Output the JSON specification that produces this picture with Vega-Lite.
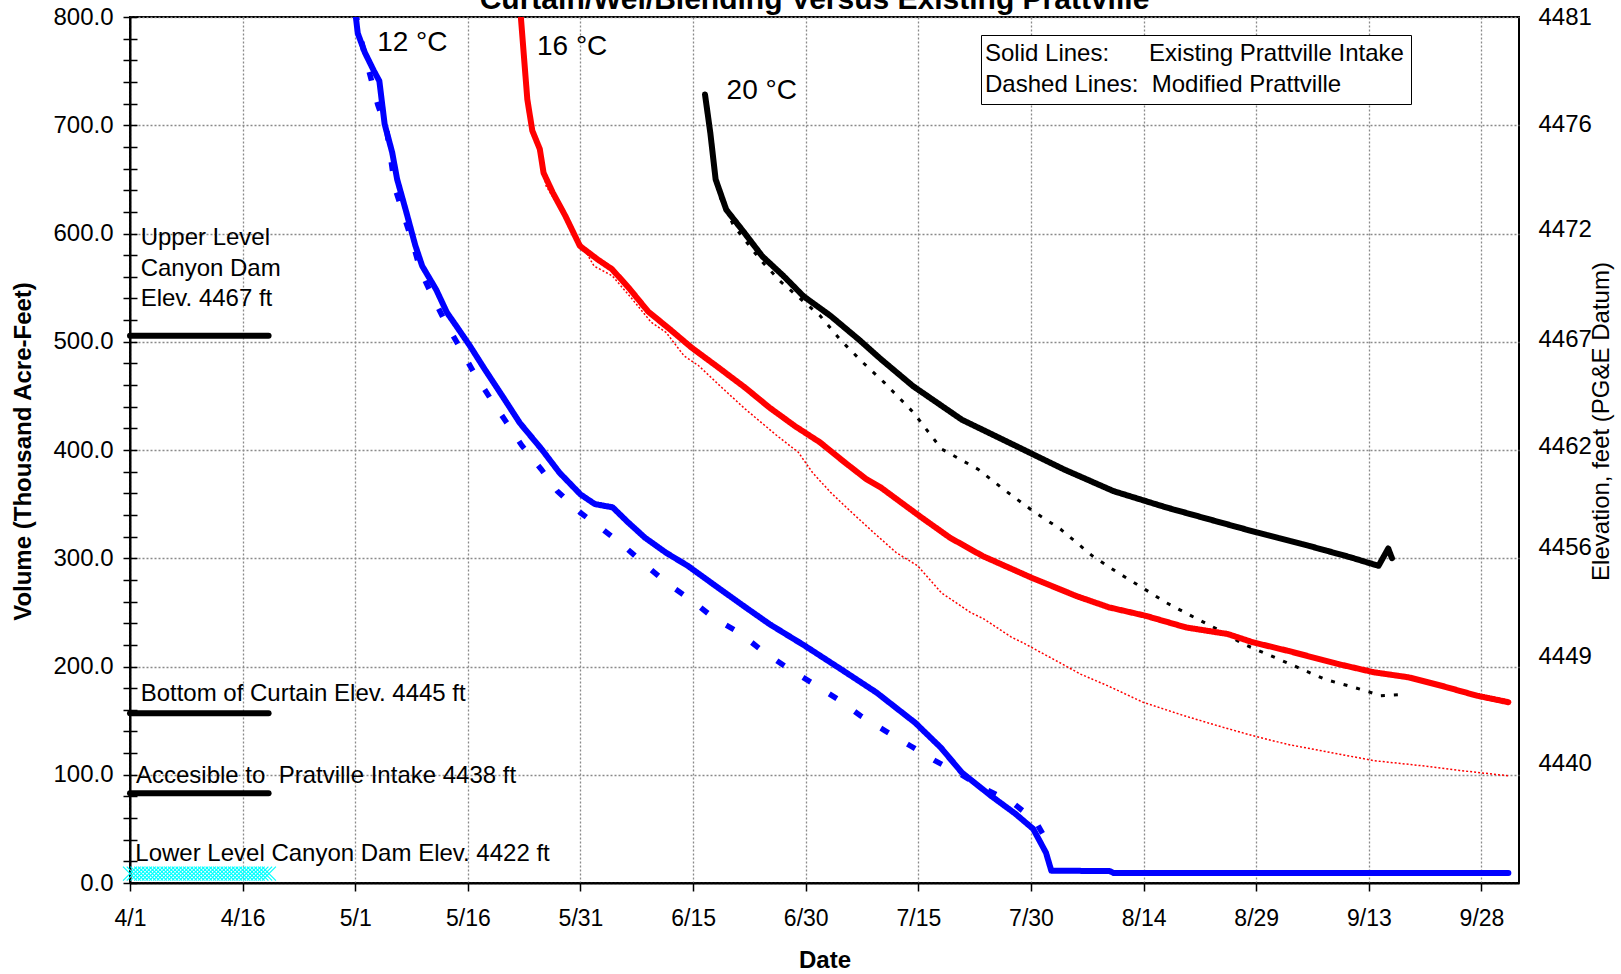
{
  "$schema": "https://vega.github.io/schema/vega-lite/v6.json",
  "width": 1389,
  "height": 866,
  "autosize": {"type": "none"},
  "padding": {"left": 130, "top": 17, "right": 102, "bottom": 91},
  "background": "white",
  "config": {
    "font": "Liberation Sans",
    "view": {"stroke": "black", "strokeWidth": 2},
    "axis": {"labelColor": "black", "titleColor": "black", "labelFont": "Liberation Sans", "titleFont": "Liberation Sans"}
  },
  "title": {
    "text": "Curtain/Wel/Blending Versus Existing Prattville",
    "fontSize": 30,
    "fontWeight": "bold",
    "color": "black",
    "font": "Liberation Sans",
    "offset": 0,
    "dx": -10,
    "dy": 10
  },
  "datasets": {
    "curves": [
      {"temp": "12 °C", "intake": "Existing Prattville Intake", "date": "2007-05-01T00:00Z", "v": 805},
      {"temp": "12 °C", "intake": "Existing Prattville Intake", "date": "2007-05-01T08:00Z", "v": 785},
      {"temp": "12 °C", "intake": "Existing Prattville Intake", "date": "2007-05-02T07:00Z", "v": 767},
      {"temp": "12 °C", "intake": "Existing Prattville Intake", "date": "2007-05-03T12:00Z", "v": 750},
      {"temp": "12 °C", "intake": "Existing Prattville Intake", "date": "2007-05-04T05:00Z", "v": 741},
      {"temp": "12 °C", "intake": "Existing Prattville Intake", "date": "2007-05-04T22:00Z", "v": 701},
      {"temp": "12 °C", "intake": "Existing Prattville Intake", "date": "2007-05-05T22:00Z", "v": 675},
      {"temp": "12 °C", "intake": "Existing Prattville Intake", "date": "2007-05-06T14:00Z", "v": 650},
      {"temp": "12 °C", "intake": "Existing Prattville Intake", "date": "2007-05-07T19:00Z", "v": 620},
      {"temp": "12 °C", "intake": "Existing Prattville Intake", "date": "2007-05-09T00:00Z", "v": 589},
      {"temp": "12 °C", "intake": "Existing Prattville Intake", "date": "2007-05-09T22:00Z", "v": 570},
      {"temp": "12 °C", "intake": "Existing Prattville Intake", "date": "2007-05-11T19:00Z", "v": 548},
      {"temp": "12 °C", "intake": "Existing Prattville Intake", "date": "2007-05-13T05:00Z", "v": 527},
      {"temp": "12 °C", "intake": "Existing Prattville Intake", "date": "2007-05-14T10:00Z", "v": 515},
      {"temp": "12 °C", "intake": "Existing Prattville Intake", "date": "2007-05-16T07:00Z", "v": 496},
      {"temp": "12 °C", "intake": "Existing Prattville Intake", "date": "2007-05-18T05:00Z", "v": 475},
      {"temp": "12 °C", "intake": "Existing Prattville Intake", "date": "2007-05-20T14:00Z", "v": 450},
      {"temp": "12 °C", "intake": "Existing Prattville Intake", "date": "2007-05-22T22:00Z", "v": 425},
      {"temp": "12 °C", "intake": "Existing Prattville Intake", "date": "2007-05-25T19:00Z", "v": 401},
      {"temp": "12 °C", "intake": "Existing Prattville Intake", "date": "2007-05-28T05:00Z", "v": 379},
      {"temp": "12 °C", "intake": "Existing Prattville Intake", "date": "2007-05-31T00:00Z", "v": 359},
      {"temp": "12 °C", "intake": "Existing Prattville Intake", "date": "2007-06-01T22:00Z", "v": 350},
      {"temp": "12 °C", "intake": "Existing Prattville Intake", "date": "2007-06-04T07:00Z", "v": 347},
      {"temp": "12 °C", "intake": "Existing Prattville Intake", "date": "2007-06-06T05:00Z", "v": 334},
      {"temp": "12 °C", "intake": "Existing Prattville Intake", "date": "2007-06-08T14:00Z", "v": 319},
      {"temp": "12 °C", "intake": "Existing Prattville Intake", "date": "2007-06-11T10:00Z", "v": 305},
      {"temp": "12 °C", "intake": "Existing Prattville Intake", "date": "2007-06-14T07:00Z", "v": 293},
      {"temp": "12 °C", "intake": "Existing Prattville Intake", "date": "2007-06-18T02:00Z", "v": 274},
      {"temp": "12 °C", "intake": "Existing Prattville Intake", "date": "2007-06-21T22:00Z", "v": 255},
      {"temp": "12 °C", "intake": "Existing Prattville Intake", "date": "2007-06-25T05:00Z", "v": 239},
      {"temp": "12 °C", "intake": "Existing Prattville Intake", "date": "2007-06-29T22:00Z", "v": 219},
      {"temp": "12 °C", "intake": "Existing Prattville Intake", "date": "2007-07-04T14:00Z", "v": 198},
      {"temp": "12 °C", "intake": "Existing Prattville Intake", "date": "2007-07-09T10:00Z", "v": 176},
      {"temp": "12 °C", "intake": "Existing Prattville Intake", "date": "2007-07-14T14:00Z", "v": 148},
      {"temp": "12 °C", "intake": "Existing Prattville Intake", "date": "2007-07-18T00:00Z", "v": 125},
      {"temp": "12 °C", "intake": "Existing Prattville Intake", "date": "2007-07-20T19:00Z", "v": 102},
      {"temp": "12 °C", "intake": "Existing Prattville Intake", "date": "2007-07-24T14:00Z", "v": 81},
      {"temp": "12 °C", "intake": "Existing Prattville Intake", "date": "2007-07-27T22:00Z", "v": 64},
      {"temp": "12 °C", "intake": "Existing Prattville Intake", "date": "2007-07-30T07:00Z", "v": 50},
      {"temp": "12 °C", "intake": "Existing Prattville Intake", "date": "2007-08-01T00:00Z", "v": 28},
      {"temp": "12 °C", "intake": "Existing Prattville Intake", "date": "2007-08-01T17:00Z", "v": 11.4},
      {"temp": "12 °C", "intake": "Existing Prattville Intake", "date": "2007-08-09T12:00Z", "v": 11},
      {"temp": "12 °C", "intake": "Existing Prattville Intake", "date": "2007-08-10T00:00Z", "v": 9.3},
      {"temp": "12 °C", "intake": "Existing Prattville Intake", "date": "2007-10-01T14:00Z", "v": 9.3},

      {"temp": "12 °C", "intake": "Modified Prattville", "date": "2007-05-01T00:00Z", "v": 805},
      {"temp": "12 °C", "intake": "Modified Prattville", "date": "2007-05-02T02:00Z", "v": 770},
      {"temp": "12 °C", "intake": "Modified Prattville", "date": "2007-05-04T00:00Z", "v": 719},
      {"temp": "12 °C", "intake": "Modified Prattville", "date": "2007-05-05T05:00Z", "v": 695},
      {"temp": "12 °C", "intake": "Modified Prattville", "date": "2007-05-06T07:00Z", "v": 642},
      {"temp": "12 °C", "intake": "Modified Prattville", "date": "2007-05-07T12:00Z", "v": 616},
      {"temp": "12 °C", "intake": "Modified Prattville", "date": "2007-05-08T17:00Z", "v": 590},
      {"temp": "12 °C", "intake": "Modified Prattville", "date": "2007-05-09T17:00Z", "v": 565},
      {"temp": "12 °C", "intake": "Modified Prattville", "date": "2007-05-11T07:00Z", "v": 542},
      {"temp": "12 °C", "intake": "Modified Prattville", "date": "2007-05-13T00:00Z", "v": 518},
      {"temp": "12 °C", "intake": "Modified Prattville", "date": "2007-05-15T02:00Z", "v": 493},
      {"temp": "12 °C", "intake": "Modified Prattville", "date": "2007-05-16T19:00Z", "v": 471.5},
      {"temp": "12 °C", "intake": "Modified Prattville", "date": "2007-05-18T22:00Z", "v": 448.5},
      {"temp": "12 °C", "intake": "Modified Prattville", "date": "2007-05-21T00:00Z", "v": 427},
      {"temp": "12 °C", "intake": "Modified Prattville", "date": "2007-05-23T05:00Z", "v": 404},
      {"temp": "12 °C", "intake": "Modified Prattville", "date": "2007-05-25T19:00Z", "v": 382},
      {"temp": "12 °C", "intake": "Modified Prattville", "date": "2007-05-27T22:00Z", "v": 362},
      {"temp": "12 °C", "intake": "Modified Prattville", "date": "2007-05-31T00:00Z", "v": 342},
      {"temp": "12 °C", "intake": "Modified Prattville", "date": "2007-06-02T22:00Z", "v": 327},
      {"temp": "12 °C", "intake": "Modified Prattville", "date": "2007-06-06T00:00Z", "v": 310},
      {"temp": "12 °C", "intake": "Modified Prattville", "date": "2007-06-08T19:00Z", "v": 293},
      {"temp": "12 °C", "intake": "Modified Prattville", "date": "2007-06-11T17:00Z", "v": 276},
      {"temp": "12 °C", "intake": "Modified Prattville", "date": "2007-06-14T19:00Z", "v": 261},
      {"temp": "12 °C", "intake": "Modified Prattville", "date": "2007-06-17T22:00Z", "v": 244},
      {"temp": "12 °C", "intake": "Modified Prattville", "date": "2007-06-21T05:00Z", "v": 231},
      {"temp": "12 °C", "intake": "Modified Prattville", "date": "2007-06-24T05:00Z", "v": 214.5},
      {"temp": "12 °C", "intake": "Modified Prattville", "date": "2007-06-27T12:00Z", "v": 199},
      {"temp": "12 °C", "intake": "Modified Prattville", "date": "2007-06-30T19:00Z", "v": 185},
      {"temp": "12 °C", "intake": "Modified Prattville", "date": "2007-07-04T05:00Z", "v": 170},
      {"temp": "12 °C", "intake": "Modified Prattville", "date": "2007-07-07T07:00Z", "v": 154.5},
      {"temp": "12 °C", "intake": "Modified Prattville", "date": "2007-07-10T14:00Z", "v": 140.6},
      {"temp": "12 °C", "intake": "Modified Prattville", "date": "2007-07-13T22:00Z", "v": 126.8},
      {"temp": "12 °C", "intake": "Modified Prattville", "date": "2007-07-17T05:00Z", "v": 113},
      {"temp": "12 °C", "intake": "Modified Prattville", "date": "2007-07-20T14:00Z", "v": 100.6},
      {"temp": "12 °C", "intake": "Modified Prattville", "date": "2007-07-23T22:00Z", "v": 86.8},
      {"temp": "12 °C", "intake": "Modified Prattville", "date": "2007-07-27T12:00Z", "v": 74.5},
      {"temp": "12 °C", "intake": "Modified Prattville", "date": "2007-07-30T14:00Z", "v": 57.5},
      {"temp": "12 °C", "intake": "Modified Prattville", "date": "2007-08-01T14:00Z", "v": 33},

      {"temp": "16 °C", "intake": "Existing Prattville Intake", "date": "2007-05-23T00:00Z", "v": 805},
      {"temp": "16 °C", "intake": "Existing Prattville Intake", "date": "2007-05-23T22:00Z", "v": 724},
      {"temp": "16 °C", "intake": "Existing Prattville Intake", "date": "2007-05-24T14:00Z", "v": 695},
      {"temp": "16 °C", "intake": "Existing Prattville Intake", "date": "2007-05-25T14:00Z", "v": 678},
      {"temp": "16 °C", "intake": "Existing Prattville Intake", "date": "2007-05-26T02:00Z", "v": 656},
      {"temp": "16 °C", "intake": "Existing Prattville Intake", "date": "2007-05-27T07:00Z", "v": 638},
      {"temp": "16 °C", "intake": "Existing Prattville Intake", "date": "2007-05-29T00:00Z", "v": 616},
      {"temp": "16 °C", "intake": "Existing Prattville Intake", "date": "2007-05-30T22:00Z", "v": 588.5},
      {"temp": "16 °C", "intake": "Existing Prattville Intake", "date": "2007-06-02T07:00Z", "v": 576},
      {"temp": "16 °C", "intake": "Existing Prattville Intake", "date": "2007-06-04T05:00Z", "v": 567},
      {"temp": "16 °C", "intake": "Existing Prattville Intake", "date": "2007-06-06T14:00Z", "v": 548.5},
      {"temp": "16 °C", "intake": "Existing Prattville Intake", "date": "2007-06-09T00:00Z", "v": 528},
      {"temp": "16 °C", "intake": "Existing Prattville Intake", "date": "2007-06-11T22:00Z", "v": 511.5},
      {"temp": "16 °C", "intake": "Existing Prattville Intake", "date": "2007-06-14T19:00Z", "v": 494.6},
      {"temp": "16 °C", "intake": "Existing Prattville Intake", "date": "2007-06-18T02:00Z", "v": 477.7},
      {"temp": "16 °C", "intake": "Existing Prattville Intake", "date": "2007-06-21T22:00Z", "v": 457.7},
      {"temp": "16 °C", "intake": "Existing Prattville Intake", "date": "2007-06-25T05:00Z", "v": 439},
      {"temp": "16 °C", "intake": "Existing Prattville Intake", "date": "2007-06-28T14:00Z", "v": 422},
      {"temp": "16 °C", "intake": "Existing Prattville Intake", "date": "2007-07-01T22:00Z", "v": 407},
      {"temp": "16 °C", "intake": "Existing Prattville Intake", "date": "2007-07-05T05:00Z", "v": 388.5},
      {"temp": "16 °C", "intake": "Existing Prattville Intake", "date": "2007-07-08T02:00Z", "v": 373},
      {"temp": "16 °C", "intake": "Existing Prattville Intake", "date": "2007-07-10T00:00Z", "v": 365.4},
      {"temp": "16 °C", "intake": "Existing Prattville Intake", "date": "2007-07-12T17:00Z", "v": 351.5},
      {"temp": "16 °C", "intake": "Existing Prattville Intake", "date": "2007-07-15T10:00Z", "v": 337.7},
      {"temp": "16 °C", "intake": "Existing Prattville Intake", "date": "2007-07-19T05:00Z", "v": 319},
      {"temp": "16 °C", "intake": "Existing Prattville Intake", "date": "2007-07-23T14:00Z", "v": 302},
      {"temp": "16 °C", "intake": "Existing Prattville Intake", "date": "2007-07-30T02:00Z", "v": 282},
      {"temp": "16 °C", "intake": "Existing Prattville Intake", "date": "2007-08-05T02:00Z", "v": 265},
      {"temp": "16 °C", "intake": "Existing Prattville Intake", "date": "2007-08-09T10:00Z", "v": 254.6},
      {"temp": "16 °C", "intake": "Existing Prattville Intake", "date": "2007-08-14T07:00Z", "v": 246.8},
      {"temp": "16 °C", "intake": "Existing Prattville Intake", "date": "2007-08-19T17:00Z", "v": 236},
      {"temp": "16 °C", "intake": "Existing Prattville Intake", "date": "2007-08-25T05:00Z", "v": 230},
      {"temp": "16 °C", "intake": "Existing Prattville Intake", "date": "2007-08-28T14:00Z", "v": 222.3},
      {"temp": "16 °C", "intake": "Existing Prattville Intake", "date": "2007-09-02T05:00Z", "v": 214.5},
      {"temp": "16 °C", "intake": "Existing Prattville Intake", "date": "2007-09-09T02:00Z", "v": 202},
      {"temp": "16 °C", "intake": "Existing Prattville Intake", "date": "2007-09-13T17:00Z", "v": 194.6},
      {"temp": "16 °C", "intake": "Existing Prattville Intake", "date": "2007-09-18T07:00Z", "v": 190},
      {"temp": "16 °C", "intake": "Existing Prattville Intake", "date": "2007-09-22T19:00Z", "v": 182},
      {"temp": "16 °C", "intake": "Existing Prattville Intake", "date": "2007-09-27T10:00Z", "v": 173},
      {"temp": "16 °C", "intake": "Existing Prattville Intake", "date": "2007-10-01T14:00Z", "v": 167},

      {"temp": "16 °C", "intake": "Modified Prattville", "date": "2007-05-23T00:00Z", "v": 805},
      {"temp": "16 °C", "intake": "Modified Prattville", "date": "2007-05-23T22:00Z", "v": 724},
      {"temp": "16 °C", "intake": "Modified Prattville", "date": "2007-05-24T14:00Z", "v": 695},
      {"temp": "16 °C", "intake": "Modified Prattville", "date": "2007-05-25T14:00Z", "v": 678},
      {"temp": "16 °C", "intake": "Modified Prattville", "date": "2007-05-26T10:00Z", "v": 644},
      {"temp": "16 °C", "intake": "Modified Prattville", "date": "2007-05-28T02:00Z", "v": 625},
      {"temp": "16 °C", "intake": "Modified Prattville", "date": "2007-05-30T12:00Z", "v": 598},
      {"temp": "16 °C", "intake": "Modified Prattville", "date": "2007-06-01T19:00Z", "v": 570},
      {"temp": "16 °C", "intake": "Modified Prattville", "date": "2007-06-04T05:00Z", "v": 561},
      {"temp": "16 °C", "intake": "Modified Prattville", "date": "2007-06-06T14:00Z", "v": 542},
      {"temp": "16 °C", "intake": "Modified Prattville", "date": "2007-06-09T10:00Z", "v": 518},
      {"temp": "16 °C", "intake": "Modified Prattville", "date": "2007-06-11T10:00Z", "v": 508.5},
      {"temp": "16 °C", "intake": "Modified Prattville", "date": "2007-06-13T19:00Z", "v": 487},
      {"temp": "16 °C", "intake": "Modified Prattville", "date": "2007-06-15T17:00Z", "v": 478},
      {"temp": "16 °C", "intake": "Modified Prattville", "date": "2007-06-19T02:00Z", "v": 456},
      {"temp": "16 °C", "intake": "Modified Prattville", "date": "2007-06-21T22:00Z", "v": 438},
      {"temp": "16 °C", "intake": "Modified Prattville", "date": "2007-06-26T05:00Z", "v": 413},
      {"temp": "16 °C", "intake": "Modified Prattville", "date": "2007-06-29T00:00Z", "v": 398},
      {"temp": "16 °C", "intake": "Modified Prattville", "date": "2007-06-30T22:00Z", "v": 379},
      {"temp": "16 °C", "intake": "Modified Prattville", "date": "2007-07-03T07:00Z", "v": 361},
      {"temp": "16 °C", "intake": "Modified Prattville", "date": "2007-07-05T17:00Z", "v": 345},
      {"temp": "16 °C", "intake": "Modified Prattville", "date": "2007-07-09T00:00Z", "v": 324},
      {"temp": "16 °C", "intake": "Modified Prattville", "date": "2007-07-12T02:00Z", "v": 305},
      {"temp": "16 °C", "intake": "Modified Prattville", "date": "2007-07-14T22:00Z", "v": 293},
      {"temp": "16 °C", "intake": "Modified Prattville", "date": "2007-07-18T02:00Z", "v": 268},
      {"temp": "16 °C", "intake": "Modified Prattville", "date": "2007-07-21T22:00Z", "v": 250},
      {"temp": "16 °C", "intake": "Modified Prattville", "date": "2007-07-23T17:00Z", "v": 244},
      {"temp": "16 °C", "intake": "Modified Prattville", "date": "2007-07-27T10:00Z", "v": 227},
      {"temp": "16 °C", "intake": "Modified Prattville", "date": "2007-07-28T22:00Z", "v": 222},
      {"temp": "16 °C", "intake": "Modified Prattville", "date": "2007-08-02T17:00Z", "v": 204},
      {"temp": "16 °C", "intake": "Modified Prattville", "date": "2007-08-05T14:00Z", "v": 193},
      {"temp": "16 °C", "intake": "Modified Prattville", "date": "2007-08-09T07:00Z", "v": 182},
      {"temp": "16 °C", "intake": "Modified Prattville", "date": "2007-08-13T22:00Z", "v": 167},
      {"temp": "16 °C", "intake": "Modified Prattville", "date": "2007-08-19T10:00Z", "v": 154.5},
      {"temp": "16 °C", "intake": "Modified Prattville", "date": "2007-08-24T00:00Z", "v": 145},
      {"temp": "16 °C", "intake": "Modified Prattville", "date": "2007-08-28T14:00Z", "v": 136},
      {"temp": "16 °C", "intake": "Modified Prattville", "date": "2007-09-02T05:00Z", "v": 128},
      {"temp": "16 °C", "intake": "Modified Prattville", "date": "2007-09-09T02:00Z", "v": 119},
      {"temp": "16 °C", "intake": "Modified Prattville", "date": "2007-09-13T17:00Z", "v": 113},
      {"temp": "16 °C", "intake": "Modified Prattville", "date": "2007-09-20T12:00Z", "v": 108},
      {"temp": "16 °C", "intake": "Modified Prattville", "date": "2007-09-25T02:00Z", "v": 104},
      {"temp": "16 °C", "intake": "Modified Prattville", "date": "2007-10-01T14:00Z", "v": 99},

      {"temp": "20 °C", "intake": "Existing Prattville Intake", "date": "2007-06-16T14:00Z", "v": 728.5},
      {"temp": "20 °C", "intake": "Existing Prattville Intake", "date": "2007-06-17T07:00Z", "v": 693},
      {"temp": "20 °C", "intake": "Existing Prattville Intake", "date": "2007-06-18T00:00Z", "v": 650},
      {"temp": "20 °C", "intake": "Existing Prattville Intake", "date": "2007-06-19T10:00Z", "v": 622},
      {"temp": "20 °C", "intake": "Existing Prattville Intake", "date": "2007-06-21T19:00Z", "v": 601},
      {"temp": "20 °C", "intake": "Existing Prattville Intake", "date": "2007-06-24T05:00Z", "v": 579},
      {"temp": "20 °C", "intake": "Existing Prattville Intake", "date": "2007-06-27T00:00Z", "v": 561},
      {"temp": "20 °C", "intake": "Existing Prattville Intake", "date": "2007-06-29T17:00Z", "v": 542},
      {"temp": "20 °C", "intake": "Existing Prattville Intake", "date": "2007-07-03T07:00Z", "v": 524},
      {"temp": "20 °C", "intake": "Existing Prattville Intake", "date": "2007-07-07T02:00Z", "v": 502},
      {"temp": "20 °C", "intake": "Existing Prattville Intake", "date": "2007-07-10T00:00Z", "v": 484},
      {"temp": "20 °C", "intake": "Existing Prattville Intake", "date": "2007-07-14T07:00Z", "v": 459},
      {"temp": "20 °C", "intake": "Existing Prattville Intake", "date": "2007-07-20T19:00Z", "v": 428},
      {"temp": "20 °C", "intake": "Existing Prattville Intake", "date": "2007-07-27T22:00Z", "v": 404},
      {"temp": "20 °C", "intake": "Existing Prattville Intake", "date": "2007-08-03T10:00Z", "v": 382},
      {"temp": "20 °C", "intake": "Existing Prattville Intake", "date": "2007-08-10T00:00Z", "v": 362},
      {"temp": "20 °C", "intake": "Existing Prattville Intake", "date": "2007-08-17T00:00Z", "v": 347},
      {"temp": "20 °C", "intake": "Existing Prattville Intake", "date": "2007-08-23T12:00Z", "v": 334.5},
      {"temp": "20 °C", "intake": "Existing Prattville Intake", "date": "2007-08-29T00:00Z", "v": 324},
      {"temp": "20 °C", "intake": "Existing Prattville Intake", "date": "2007-09-05T00:00Z", "v": 311.5},
      {"temp": "20 °C", "intake": "Existing Prattville Intake", "date": "2007-09-10T12:00Z", "v": 301},
      {"temp": "20 °C", "intake": "Existing Prattville Intake", "date": "2007-09-14T07:00Z", "v": 293},
      {"temp": "20 °C", "intake": "Existing Prattville Intake", "date": "2007-09-15T14:00Z", "v": 309},
      {"temp": "20 °C", "intake": "Existing Prattville Intake", "date": "2007-09-16T02:00Z", "v": 300},

      {"temp": "20 °C", "intake": "Modified Prattville", "date": "2007-06-16T14:00Z", "v": 728.5},
      {"temp": "20 °C", "intake": "Modified Prattville", "date": "2007-06-17T07:00Z", "v": 693},
      {"temp": "20 °C", "intake": "Modified Prattville", "date": "2007-06-18T00:00Z", "v": 650},
      {"temp": "20 °C", "intake": "Modified Prattville", "date": "2007-06-18T12:00Z", "v": 635},
      {"temp": "20 °C", "intake": "Modified Prattville", "date": "2007-06-20T10:00Z", "v": 607},
      {"temp": "20 °C", "intake": "Modified Prattville", "date": "2007-06-21T19:00Z", "v": 595},
      {"temp": "20 °C", "intake": "Modified Prattville", "date": "2007-06-23T22:00Z", "v": 576},
      {"temp": "20 °C", "intake": "Modified Prattville", "date": "2007-06-26T14:00Z", "v": 556},
      {"temp": "20 °C", "intake": "Modified Prattville", "date": "2007-06-29T10:00Z", "v": 539},
      {"temp": "20 °C", "intake": "Modified Prattville", "date": "2007-07-01T22:00Z", "v": 524},
      {"temp": "20 °C", "intake": "Modified Prattville", "date": "2007-07-04T17:00Z", "v": 501},
      {"temp": "20 °C", "intake": "Modified Prattville", "date": "2007-07-07T14:00Z", "v": 481},
      {"temp": "20 °C", "intake": "Modified Prattville", "date": "2007-07-10T12:00Z", "v": 462},
      {"temp": "20 °C", "intake": "Modified Prattville", "date": "2007-07-14T07:00Z", "v": 435},
      {"temp": "20 °C", "intake": "Modified Prattville", "date": "2007-07-18T02:00Z", "v": 401},
      {"temp": "20 °C", "intake": "Modified Prattville", "date": "2007-07-23T00:00Z", "v": 382},
      {"temp": "20 °C", "intake": "Modified Prattville", "date": "2007-07-26T07:00Z", "v": 364},
      {"temp": "20 °C", "intake": "Modified Prattville", "date": "2007-07-30T14:00Z", "v": 342},
      {"temp": "20 °C", "intake": "Modified Prattville", "date": "2007-08-02T22:00Z", "v": 327},
      {"temp": "20 °C", "intake": "Modified Prattville", "date": "2007-08-07T05:00Z", "v": 302},
      {"temp": "20 °C", "intake": "Modified Prattville", "date": "2007-08-10T12:00Z", "v": 287},
      {"temp": "20 °C", "intake": "Modified Prattville", "date": "2007-08-13T19:00Z", "v": 273},
      {"temp": "20 °C", "intake": "Modified Prattville", "date": "2007-08-17T00:00Z", "v": 259},
      {"temp": "20 °C", "intake": "Modified Prattville", "date": "2007-08-20T07:00Z", "v": 247},
      {"temp": "20 °C", "intake": "Modified Prattville", "date": "2007-08-23T19:00Z", "v": 234.5},
      {"temp": "20 °C", "intake": "Modified Prattville", "date": "2007-08-27T05:00Z", "v": 221},
      {"temp": "20 °C", "intake": "Modified Prattville", "date": "2007-08-30T22:00Z", "v": 210},
      {"temp": "20 °C", "intake": "Modified Prattville", "date": "2007-09-03T14:00Z", "v": 199},
      {"temp": "20 °C", "intake": "Modified Prattville", "date": "2007-09-07T05:00Z", "v": 188},
      {"temp": "20 °C", "intake": "Modified Prattville", "date": "2007-09-10T22:00Z", "v": 181},
      {"temp": "20 °C", "intake": "Modified Prattville", "date": "2007-09-13T00:00Z", "v": 176.6},
      {"temp": "20 °C", "intake": "Modified Prattville", "date": "2007-09-14T14:00Z", "v": 173},
      {"temp": "20 °C", "intake": "Modified Prattville", "date": "2007-09-17T00:00Z", "v": 174}
    ],
    "levels": [
      {"level": "Upper Level Canyon Dam", "date": "2007-04-01T00:00Z", "v": 505.6},
      {"level": "Upper Level Canyon Dam", "date": "2007-04-19T11:00Z", "v": 505.6},
      {"level": "Bottom of Curtain", "date": "2007-04-01T00:00Z", "v": 156.7},
      {"level": "Bottom of Curtain", "date": "2007-04-19T11:00Z", "v": 156.7},
      {"level": "Accesible to Pratville Intake", "date": "2007-04-01T00:00Z", "v": 82.8},
      {"level": "Accesible to Pratville Intake", "date": "2007-04-19T11:00Z", "v": 82.8}
    ],
    "lowlevel": [
      {"date": "2007-04-01T00:00Z", "v": 8.6}, {"date": "2007-04-01T12:00Z", "v": 8.6},
      {"date": "2007-04-02T00:00Z", "v": 8.6}, {"date": "2007-04-02T12:00Z", "v": 8.6},
      {"date": "2007-04-03T00:00Z", "v": 8.6}, {"date": "2007-04-03T12:00Z", "v": 8.6},
      {"date": "2007-04-04T00:00Z", "v": 8.6}, {"date": "2007-04-04T12:00Z", "v": 8.6},
      {"date": "2007-04-05T00:00Z", "v": 8.6}, {"date": "2007-04-05T12:00Z", "v": 8.6},
      {"date": "2007-04-06T00:00Z", "v": 8.6}, {"date": "2007-04-06T12:00Z", "v": 8.6},
      {"date": "2007-04-07T00:00Z", "v": 8.6}, {"date": "2007-04-07T12:00Z", "v": 8.6},
      {"date": "2007-04-08T00:00Z", "v": 8.6}, {"date": "2007-04-08T12:00Z", "v": 8.6},
      {"date": "2007-04-09T00:00Z", "v": 8.6}, {"date": "2007-04-09T12:00Z", "v": 8.6},
      {"date": "2007-04-10T00:00Z", "v": 8.6}, {"date": "2007-04-10T12:00Z", "v": 8.6},
      {"date": "2007-04-11T00:00Z", "v": 8.6}, {"date": "2007-04-11T12:00Z", "v": 8.6},
      {"date": "2007-04-12T00:00Z", "v": 8.6}, {"date": "2007-04-12T12:00Z", "v": 8.6},
      {"date": "2007-04-13T00:00Z", "v": 8.6}, {"date": "2007-04-13T12:00Z", "v": 8.6},
      {"date": "2007-04-14T00:00Z", "v": 8.6}, {"date": "2007-04-14T12:00Z", "v": 8.6},
      {"date": "2007-04-15T00:00Z", "v": 8.6}, {"date": "2007-04-15T12:00Z", "v": 8.6},
      {"date": "2007-04-16T00:00Z", "v": 8.6}, {"date": "2007-04-16T12:00Z", "v": 8.6},
      {"date": "2007-04-17T00:00Z", "v": 8.6}, {"date": "2007-04-17T12:00Z", "v": 8.6},
      {"date": "2007-04-18T00:00Z", "v": 8.6}, {"date": "2007-04-18T12:00Z", "v": 8.6},
      {"date": "2007-04-19T00:00Z", "v": 8.6}, {"date": "2007-04-19T12:00Z", "v": 8.6}
    ],
    "templabels": [
      {"label": "12 °C", "date": "2007-05-03T22:00Z", "v": 776},
      {"label": "16 °C", "date": "2007-05-25T05:00Z", "v": 772.5},
      {"label": "20 °C", "date": "2007-06-19T11:00Z", "v": 731.4}
    ],
    "notes": [
      {"label": "Upper Level", "date": "2007-04-02T10:00Z", "v": 596},
      {"label": "Canyon Dam", "date": "2007-04-02T10:00Z", "v": 567},
      {"label": "Elev. 4467 ft", "date": "2007-04-02T10:00Z", "v": 539.4},
      {"label": "Bottom of Curtain Elev. 4445 ft", "date": "2007-04-02T10:00Z", "v": 175},
      {"label": "Accesible to\u00a0 Pratville Intake 4438 ft", "date": "2007-04-01T19:00Z", "v": 98.8},
      {"label": "Lower Level Canyon Dam Elev. 4422 ft", "date": "2007-04-01T17:00Z", "v": 26.9}
    ]
  },
  "encoding": {
    "x": {
      "field": "date",
      "type": "temporal",
      "scale": {
        "type": "utc",
        "nice": false,
        "domain": [
          {"year": 2007, "month": 4, "date": 1, "utc": true},
          {"year": 2007, "month": 10, "date": 3, "utc": true}
        ]
      },
      "axis": {
        "values": [
          {"year": 2007, "month": 4, "date": 1, "utc": true},
          {"year": 2007, "month": 4, "date": 16, "utc": true},
          {"year": 2007, "month": 5, "date": 1, "utc": true},
          {"year": 2007, "month": 5, "date": 16, "utc": true},
          {"year": 2007, "month": 5, "date": 31, "utc": true},
          {"year": 2007, "month": 6, "date": 15, "utc": true},
          {"year": 2007, "month": 6, "date": 30, "utc": true},
          {"year": 2007, "month": 7, "date": 15, "utc": true},
          {"year": 2007, "month": 7, "date": 30, "utc": true},
          {"year": 2007, "month": 8, "date": 14, "utc": true},
          {"year": 2007, "month": 8, "date": 29, "utc": true},
          {"year": 2007, "month": 9, "date": 13, "utc": true},
          {"year": 2007, "month": 9, "date": 28, "utc": true}
        ],
        "labelExpr": "utcFormat(datum.value, '%-m/%-d')",
        "labelFontSize": 23,
        "labelPadding": 16,
        "labelFlush": false,
        "labelOverlap": false,
        "tickSize": 8,
        "tickWidth": 1.5,
        "tickColor": "black",
        "domainColor": "black",
        "domainWidth": 2,
        "grid": true,
        "gridColor": "#8a8a8a",
        "gridDash": [2, 2],
        "gridWidth": 1.3,
        "title": "Date",
        "titleFontSize": 24,
        "titleFontWeight": "bold",
        "titleBaseline": "alphabetic",
        "titleY": 84
      }
    },
    "y": {
      "field": "v",
      "type": "quantitative",
      "scale": {"domain": [0, 800], "nice": false, "zero": false},
      "axis": null
    }
  },
  "resolve": {"axis": {"y": "independent"}},
  "layer": [
    {
      "data": {"name": "curves"},
      "transform": [{"filter": "datum.temp == '12 °C' && datum.intake == 'Modified Prattville'"}],
      "mark": {"type": "line", "color": "#0000ff", "strokeWidth": 5.5, "strokeDash": [9, 22], "clip": true},
      "encoding": {
        "y": {
          "field": "v", "type": "quantitative",
          "scale": {"domain": [0, 800], "nice": false, "zero": false},
          "axis": {
            "orient": "left",
            "values": [0, 20, 40, 60, 80, 100, 120, 140, 160, 180, 200, 220, 240, 260, 280, 300, 320, 340, 360, 380, 400, 420, 440, 460, 480, 500, 520, 540, 560, 580, 600, 620, 640, 660, 680, 700, 720, 740, 760, 780, 800],
            "tickSize": -7, "tickColor": "black", "tickWidth": 1.5,
            "labels": false, "domain": false, "grid": false, "title": null
          }
        }
      }
    },
    {
      "data": {"name": "curves"},
      "transform": [{"filter": "datum.temp == '16 °C' && datum.intake == 'Modified Prattville'"}],
      "mark": {"type": "line", "color": "#ff0000", "strokeWidth": 1.5, "strokeDash": [2, 2], "clip": true},
      "encoding": {
        "y": {
          "field": "v", "type": "quantitative",
          "scale": {"domain": [0, 800], "nice": false, "zero": false},
          "axis": {
            "orient": "left",
            "values": [20, 40, 60, 80, 120, 140, 160, 180, 220, 240, 260, 280, 320, 340, 360, 380, 420, 440, 460, 480, 520, 540, 560, 580, 620, 640, 660, 680, 720, 740, 760, 780],
            "tickSize": 7, "tickColor": "black", "tickWidth": 1.5,
            "labels": false, "domain": false, "grid": false, "title": null
          }
        }
      }
    },
    {
      "data": {"name": "curves"},
      "transform": [{"filter": "datum.temp == '20 °C' && datum.intake == 'Modified Prattville'"}],
      "mark": {"type": "line", "color": "#000000", "strokeWidth": 3, "strokeDash": [4, 9], "clip": true},
      "encoding": {
        "y": {
          "field": "v", "type": "quantitative",
          "scale": {"domain": [0, 800], "nice": false, "zero": false},
          "axis": {
            "orient": "right",
            "values": [800, 700.5, 603.5, 502, 403.4, 309.8, 209, 110.2],
            "labelExpr": "datum.value > 750 ? '4481' : datum.value > 650 ? '4476' : datum.value > 550 ? '4472' : datum.value > 450 ? '4467' : datum.value > 350 ? '4462' : datum.value > 250 ? '4456' : datum.value > 150 ? '4449' : '4440'",
            "ticks": false, "tickSize": 0, "domain": false, "grid": false,
            "labelPadding": 19, "labelFontSize": 24, "labelAlign": "left", "labelBaseline": "middle",
            "labelFlush": false, "labelOverlap": false,
            "title": "Elevation, feet (PG&E Datum)",
            "titleFontSize": 24, "titleFontWeight": "normal",
            "titleAngle": 270, "titleX": 82, "titleY": 404,
            "titleBaseline": "middle", "titleAlign": "center"
          }
        }
      }
    },
    {
      "data": {"name": "curves"},
      "transform": [{"filter": "datum.intake == 'Existing Prattville Intake'"}],
      "mark": {"type": "line", "strokeWidth": 6, "strokeCap": "round", "strokeJoin": "round", "clip": true},
      "encoding": {
        "y": {
          "field": "v", "type": "quantitative",
          "scale": {"domain": [0, 800], "nice": false, "zero": false},
          "axis": {
            "orient": "left",
            "values": [0, 100, 200, 300, 400, 500, 600, 700, 800],
            "format": ".1f",
            "labelFontSize": 24, "labelPadding": 10,
            "labelFlush": false, "labelOverlap": false,
            "tickSize": 7, "tickColor": "black", "tickWidth": 1.5,
            "domainColor": "black", "domainWidth": 2,
            "grid": true, "gridColor": "#8a8a8a", "gridDash": [2, 2], "gridWidth": 1.3,
            "title": "Volume (Thousand Acre-Feet)",
            "titleFontSize": 24, "titleFontWeight": "bold",
            "titleAngle": 270, "titleX": -107, "titleY": 434,
            "titleBaseline": "middle", "titleAlign": "center"
          }
        },
        "color": {
          "field": "temp", "type": "nominal",
          "scale": {"domain": ["12 °C", "16 °C", "20 °C"], "range": ["#0000ff", "#ff0000", "#000000"]},
          "legend": null
        },
        "strokeDash": {
          "field": "intake", "type": "nominal",
          "scale": {"domain": ["Existing Prattville Intake", "Modified Prattville"], "range": [[1, 0], [9, 22]]},
          "legend": {
            "orient": "none", "legendX": 851, "legendY": 18,
            "title": null, "direction": "vertical",
            "labelExpr": "datum.value == 'Existing Prattville Intake' ? 'Solid Lines:\u00a0\u00a0\u00a0\u00a0\u00a0\u00a0Existing Prattville Intake\u00a0\u00a0\u00a0\u00a0' : 'Dashed Lines:\u00a0\u00a0Modified Prattville'",
            "labelFontSize": 24, "labelColor": "black", "labelFont": "Liberation Sans", "labelLimit": 700,
            "labelOffset": -27,
            "symbolSize": 0, "symbolStrokeWidth": 0, "symbolOpacity": 0, "symbolType": "stroke",
            "padding": 7, "rowPadding": 7,
            "strokeColor": "black", "fillColor": "white"
          }
        }
      }
    },
    {
      "data": {"name": "levels"},
      "mark": {"type": "line", "color": "black", "strokeWidth": 6, "strokeCap": "round"},
      "encoding": {"detail": {"field": "level", "type": "nominal"}}
    },
    {
      "data": {"name": "lowlevel"},
      "mark": {"type": "point", "shape": "M-1,-1L1,1M-1,1L1,-1", "size": 196, "filled": false, "stroke": "#00ffff", "strokeWidth": 1.2, "opacity": 1}
    },
    {
      "data": {"name": "templabels"},
      "mark": {"type": "text", "align": "left", "baseline": "middle", "fontSize": 28, "color": "black"},
      "encoding": {"text": {"field": "label", "type": "nominal"}}
    },
    {
      "data": {"name": "notes"},
      "mark": {"type": "text", "align": "left", "baseline": "middle", "fontSize": 24, "color": "black"},
      "encoding": {"text": {"field": "label", "type": "nominal"}}
    }
  ]
}
